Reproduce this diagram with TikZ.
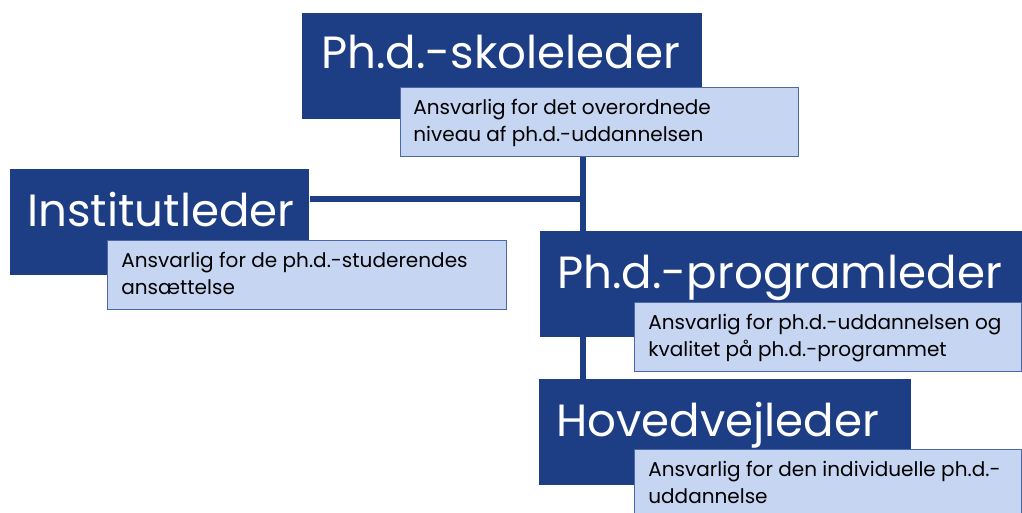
\documentclass[tikz,border=0pt]{standalone}
\usepackage{fontspec}
\setmainfont{Poppins}
\usetikzlibrary{backgrounds}
\definecolor{headblue}{RGB}{29,61,132}
\definecolor{noteblue}{RGB}{197,213,242}
\definecolor{noteedge}{RGB}{76,104,168}

\begin{document}
\begin{tikzpicture}[x=0.02cm, y=-0.02cm,
    head_style/.style={rectangle, fill=headblue, anchor=north west, inner sep=0pt, minimum height=2.12cm},
    note_style/.style={rectangle, fill=noteblue, draw=noteedge, line width=0.8pt, anchor=north west, inner sep=0pt, minimum height=1.38cm},
    title_style/.style={anchor=base west, inner sep=0pt, text=white, font=\fontsize{25.7}{30}\selectfont},
    text_style/.style={anchor=north west, inner sep=0pt, align=left, font=\fontsize{11.4}{15.3}\selectfont},
    edge_style/.style={draw=headblue, line width=3pt}]

    \useasboundingbox (0,0) rectangle (1022,512);

    \node[head_style, minimum width=8cm] (skole) at (302,13) {};
    \node[title_style] (skoletitle) at (321,68) {Ph.d.-skoleleder};
    \node[note_style, minimum width=7.96cm] (skolenote) at (400,87) {};
    \node[text_style] (skoletext) at (413,99) {Ansvarlig for det overordnede\\niveau af ph.d.-uddannelsen};

    \node[head_style, minimum width=5.98cm] (institut) at (10,169) {};
    \node[title_style] (instituttitle) at (27,226) {Institutleder};
    \node[note_style, minimum width=7.98cm] (institutnote) at (107,240) {};
    \node[text_style] (instituttext) at (121,252) {Ansvarlig for de ph.d.-studerendes\\ansættelse};

    \node[head_style, minimum width=9.7cm] (program) at (540,231) {};
    \node[title_style] (programtitle) at (557,288) {Ph.d.-programleder};
    \node[note_style, minimum width=7.74cm] (programnote) at (634,302) {};
    \node[text_style] (programtext) at (648,314) {Ansvarlig for ph.d.-uddannelsen og\\kvalitet på ph.d.-programmet};

    \node[head_style, minimum width=7.44cm] (hoved) at (539,379) {};
    \node[title_style] (hovedtitle) at (556,436) {Hovedvejleder};
    \node[note_style, minimum width=7.74cm, minimum height=1.6cm] (hovednote) at (634,449) {};
    \node[text_style] (hovedtext) at (648,461) {Ansvarlig for den individuelle ph.d.-\\uddannelse};

    \coordinate (spine) at (583,199);
    \begin{scope}[on background layer]
    \draw[edge_style] (skolenote.south -| spine) -- (hoved.north -| spine);
    \draw[edge_style] (institut.east |- spine) -- (spine);
    \end{scope}
\end{tikzpicture}
\end{document}
